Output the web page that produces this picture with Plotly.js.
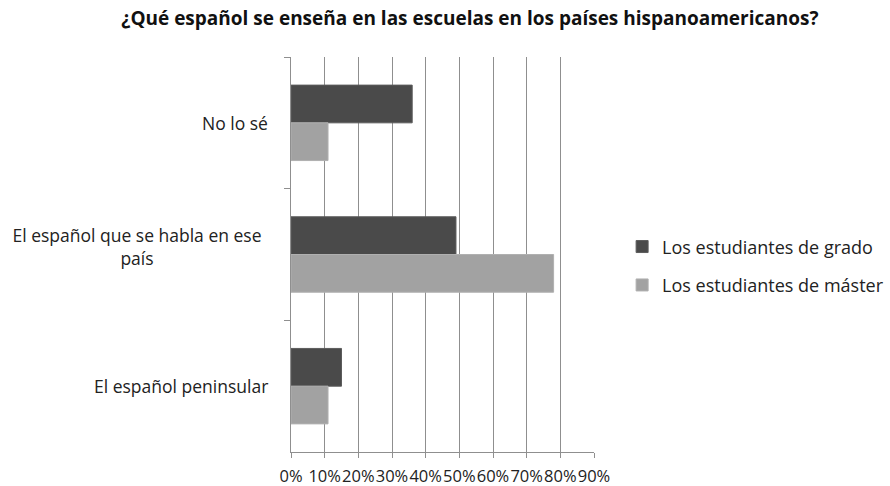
<!DOCTYPE html>
<html>
<head>
<meta charset="utf-8">
<script src="https://cdn.plot.ly/plotly-3.0.1.min.js"></script>
<style>html,body{margin:0;padding:0;background:#fff;}#chart{width:890px;height:486px;}</style>
</head>
<body>
<div id="chart"></div>
<script>
var categories = ["No lo sé", "El español que se habla en ese país", "El español peninsular"];
var categoryLabels = ["No lo sé", "El español que se habla en ese<br>país", "El español peninsular"];
var seriesNames = ["Los estudiantes de grado", "Los estudiantes de máster"];
var grado = [0.36, 0.49, 0.15];
var master = [0.11, 0.78, 0.11];
var xTickVals = [0, 0.1, 0.2, 0.3, 0.4, 0.5, 0.6, 0.7, 0.8, 0.9];

var FONT = "Open Sans, Noto Sans, sans-serif";

var traces = [
  {type: "bar", orientation: "h", name: seriesNames[0], y: categories, x: grado,
   marker: {color: "#4a4a4a", line: {color: "#5c5c5c", width: 1}}, legendgroup: "a"},
  {type: "bar", orientation: "h", name: seriesNames[1], y: categories, x: master,
   marker: {color: "#a2a2a2", line: {color: "#b0b0b0", width: 1}}, legendgroup: "b"}
];

var annotations = categories.map(function (c, i) {
  var multi = categoryLabels[i].indexOf("<br>") >= 0;
  var a = {xref: "paper", yref: "y", x: 0, y: c, xanchor: "right", yanchor: "middle",
          xshift: -21, yshift: (multi ? 8 : 0), align: multi ? "center" : "right", showarrow: false,
          text: categoryLabels[i], font: {family: FONT, size: 17.5, color: "#222"}};
  if (multi) { a.width = 262; }
  return a;
});

var layout = {
  width: 890, height: 486,
  margin: {l: 291, r: 296, t: 57, b: 34, pad: 0, autoexpand: false},
  paper_bgcolor: "#fff", plot_bgcolor: "#fff",
  font: {family: FONT, size: 17, color: "#222"},
  title: {text: "<b>¿Qué español se enseña en las escuelas en los países hispanoamericanos?</b>",
          x: 0.528, xanchor: "center", y: 0.963, yanchor: "middle",
          font: {family: FONT, size: 19, color: "#111"}},
  barmode: "group", bargap: 0.427, bargroupgap: 0,
  xaxis: {range: [0, 0.9], tickvals: xTickVals, tickformat: ".0%", tickangle: 0,
          showgrid: true, gridcolor: "#8f8f8f", gridwidth: 1, zeroline: false,
          showline: true, linecolor: "#8f8f8f", linewidth: 1, automargin: false,
          ticks: "outside", ticklen: 5, tickcolor: "#8f8f8f", ticklabelstandoff: 4,
          tickfont: {family: FONT, size: 16.5, color: "#222"}, fixedrange: true},
  yaxis: {type: "category", categoryorder: "array", categoryarray: categories,
          autorange: "reversed", showticklabels: false, tickson: "boundaries",
          ticks: "outside", ticklen: 6, tickcolor: "#8f8f8f", automargin: false,
          showline: true, linecolor: "#8f8f8f", linewidth: 1, showgrid: false, zeroline: false},
  showlegend: true,
  legend: {xref: "container", yref: "container", x: 0.699, xanchor: "left", y: 0.453, yanchor: "middle",
           traceorder: "grouped", tracegroupgap: 12,
           font: {family: FONT, size: 18, color: "#222"}, bgcolor: "rgba(0,0,0,0)"},
  annotations: annotations
};

Plotly.newPlot("chart", traces, layout, {displayModeBar: false, staticPlot: true});
</script>
</body>
</html>
